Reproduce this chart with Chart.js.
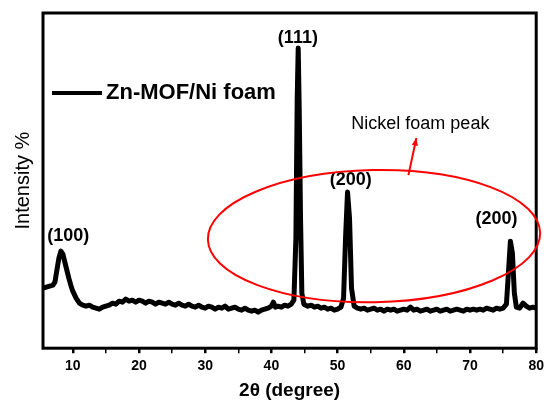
<!DOCTYPE html>
<html>
<head>
<meta charset="utf-8">
<script src="https://cdn.jsdelivr.net/npm/chart.js@4.4.0/dist/chart.umd.min.js"></script>
<style>
  html, body { margin: 0; padding: 0; background: #fff; }
  #wrap { width: 549px; height: 400px; }
</style>
</head>
<body>
<div id="wrap"><canvas id="xrd"></canvas></div>
<script>
// 2-theta positions (degree) and intensity (arb. units)
const twoTheta = [
  5.5, 6.0, 6.5, 7.0, 7.3, 7.6, 7.9, 8.2, 8.5, 8.8, 9.1, 9.4, 9.7, 10.0, 10.5, 11.0, 11.5, 12.0, 12.5, 13.0,
  13.5, 14.0, 14.5, 15.0, 15.5, 16.0, 16.5, 17.0, 17.5, 18.0, 18.5, 19.0, 19.5, 20.0, 20.5, 21.0, 21.5, 22.0,
  22.5, 23.0, 23.5, 24.0, 24.5, 25.0, 25.5, 26.0, 26.5, 27.0, 27.5, 28.0, 28.5, 29.0, 29.5, 30.0, 30.5, 31.0,
  31.5, 32.0, 32.5, 33.0, 33.5, 34.0, 34.5, 35.0, 35.5, 36.0, 36.5, 37.0, 37.5, 38.0, 38.5, 39.0, 39.5, 40.0,
  40.3, 40.6, 41.0, 41.5, 42.0, 42.5, 43.0, 43.4, 43.7, 43.9, 44.05, 44.2, 44.4, 44.6, 44.9, 45.5, 46.0, 46.5,
  47.0, 47.5, 48.0, 48.5, 49.0, 49.5, 50.0, 50.5, 50.9, 51.2, 51.5, 51.8, 52.1, 52.5, 53.0, 53.5, 54.0, 54.5,
  55.0, 55.5, 56.0, 56.5, 57.0, 57.5, 58.0, 58.5, 59.0, 59.5, 60.0, 60.5, 61.0, 61.5, 62.0, 62.5, 63.0, 63.5,
  64.0, 64.5, 65.0, 65.5, 66.0, 66.5, 67.0, 67.5, 68.0, 68.5, 69.0, 69.5, 70.0, 70.5, 71.0, 71.5, 72.0, 72.5,
  73.0, 73.5, 74.0, 74.5, 75.0, 75.5, 75.8, 76.1, 76.4, 76.7, 77.0, 77.5, 78.0, 78.5, 79.0, 79.5, 80.0
];
const intensity = [
  60, 61, 62, 63, 66, 78, 90, 97, 94, 86, 78, 70, 63, 57, 50, 45, 43, 42, 43, 41,
  40, 39, 41, 42, 43, 45, 44, 47, 46, 49, 47, 48, 46, 48, 47, 45, 47, 46,
  44, 46, 45, 44, 46, 44, 43, 45, 43, 42, 44, 42, 41, 43, 41, 40, 42, 41,
  39, 41, 40, 42, 39, 40, 41, 39, 38, 40, 38, 37, 38, 36, 38, 39, 40, 42,
  46, 41, 42, 41, 43, 42, 44, 48, 110, 250, 300, 240, 130, 55, 44, 42, 43, 41,
  42, 40, 41, 39, 40, 38, 39, 41, 50, 110, 156, 130, 60, 42, 40, 39, 40, 38,
  39, 40, 38, 39, 37, 39, 38, 39, 37, 38, 39, 38, 41, 38, 39, 37, 38, 39,
  37, 38, 39, 37, 38, 39, 37, 38, 39, 38, 37, 39, 38, 39, 38, 39, 38, 40,
  39, 38, 40, 39, 40, 44, 75, 107, 95, 55, 41, 40, 45, 42, 40, 41, 40
];
const xTicks = [10, 20, 30, 40, 50, 60, 70, 80];

// peak annotations: text, 2-theta, intensity
const peakText = ["(100)", "(111)", "(200)", "(200)"];
const peakTextX = [9.3, 44.0, 52.0, 74.0];
const peakTextY = [112, 310, 168, 129];

const FONT = "'Liberation Sans', Arial, sans-serif";

const points = twoTheta.map((t, i) => ({ x: t, y: intensity[i] }));

// frame, legend, labels and the nickel-foam ellipse
const decorPlugin = {
  id: "decor",
  afterDatasetsDraw(chart) {
    const { ctx, chartArea: a, scales: { x, y } } = chart;
    ctx.save();

    // box
    ctx.strokeStyle = "#000";
    ctx.lineWidth = 3;
    ctx.strokeRect(a.left, a.top, a.right - a.left, a.bottom - a.top);

    // legend
    ctx.lineWidth = 4;
    ctx.beginPath();
    ctx.moveTo(a.left + 9, a.top + 80);
    ctx.lineTo(a.left + 59, a.top + 80);
    ctx.stroke();
    ctx.fillStyle = "#000";
    ctx.font = "bold 22px " + FONT;
    ctx.textBaseline = "middle";
    ctx.textAlign = "left";
    ctx.fillText("Zn-MOF/Ni foam", a.left + 63, a.top + 80);

    // peak labels
    ctx.font = "bold 18px " + FONT;
    ctx.textAlign = "center";
    peakText.forEach((t, i) => {
      ctx.fillText(t, x.getPixelForValue(peakTextX[i]), y.getPixelForValue(peakTextY[i]));
    });

    // ellipse around Ni foam peaks
    const cx = x.getPixelForValue(55.5);
    const cy = y.getPixelForValue(112);
    const rx = x.getPixelForValue(80.6) - cx;
    const ry = cy - y.getPixelForValue(178);
    ctx.strokeStyle = "#ff0000";
    ctx.lineWidth = 2;
    ctx.beginPath();
    ctx.ellipse(cx, cy, rx, ry, -0.02, 0, Math.PI * 2);
    ctx.stroke();

    // arrow + note
    const x0 = x.getPixelForValue(60.7), y0 = y.getPixelForValue(173);
    const x1 = x.getPixelForValue(61.9), y1 = y.getPixelForValue(210);
    ctx.beginPath();
    ctx.moveTo(x0, y0);
    ctx.lineTo(x1, y1);
    ctx.stroke();
    const ang = Math.atan2(y1 - y0, x1 - x0);
    ctx.fillStyle = "#ff0000";
    ctx.beginPath();
    ctx.moveTo(x1, y1);
    ctx.lineTo(x1 - 8 * Math.cos(ang - 0.4), y1 - 8 * Math.sin(ang - 0.4));
    ctx.lineTo(x1 - 8 * Math.cos(ang + 0.4), y1 - 8 * Math.sin(ang + 0.4));
    ctx.closePath();
    ctx.fill();

    ctx.fillStyle = "#000";
    ctx.font = "18px " + FONT;
    ctx.textAlign = "center";
    ctx.fillText("Nickel foam peak", x.getPixelForValue(62.5), y.getPixelForValue(224));

    ctx.restore();
  }
};

new Chart(document.getElementById("xrd"), {
  type: "line",
  data: {
    datasets: [
      {
        label: "Zn-MOF/Ni foam",
        data: points,
        borderColor: "#000",
        borderWidth: 5,
        borderJoinStyle: "round",
        pointRadius: 0,
        tension: 0,
      },
    ],
  },
  options: {
    responsive: true,
    maintainAspectRatio: false,
    animation: false,
    layout: { padding: { left: 8, top: 13, right: 11, bottom: 0 } },
    plugins: { legend: { display: false }, tooltip: { enabled: false } },
    scales: {
      x: {
        type: "linear",
        min: 5.5,
        max: 80,
        border: { display: false },
        grid: {
          drawOnChartArea: false,
          drawTicks: true,
          tickLength: 5,
          color: "#000",
          lineWidth: (c) => (c.tick && c.tick.value % 10 === 0 ? 2.5 : 1.5),
        },
        ticks: {
          stepSize: 5,
          includeBounds: false,
          padding: 5,
          color: "#000",
          font: { family: FONT, size: 14, weight: "bold" },
          callback: (v) => (xTicks.includes(v) ? v : ""),
          maxRotation: 0,
          autoSkip: false,
        },
        title: {
          display: true,
          text: "2θ (degree)",
          color: "#000",
          font: { family: FONT, size: 19, weight: "bold", lineHeight: 1.0 },
          padding: { top: 1, bottom: 0 },
        },
      },
      y: {
        min: 0,
        max: 335,
        border: { display: false },
        grid: { display: false, drawTicks: false },
        ticks: { display: false },
        title: {
          display: true,
          text: "Intensity %",
          color: "#000",
          font: { family: FONT, size: 20 },
          padding: { top: 3, bottom: 8 },
        },
      },
    },
  },
  plugins: [decorPlugin],
});
</script>
</body>
</html>
